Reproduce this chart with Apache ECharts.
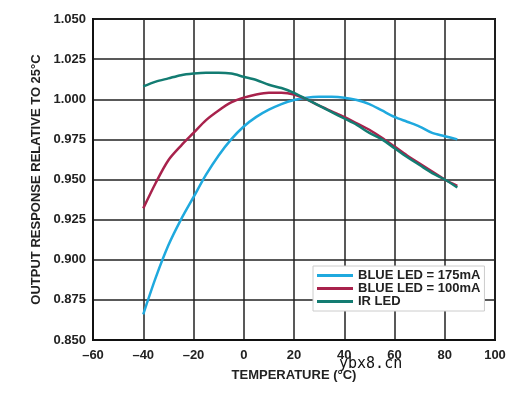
<!DOCTYPE html>
<html>
<head>
<meta charset="utf-8">
<script src="https://cdn.jsdelivr.net/npm/echarts@6/dist/echarts.min.js"></script>
<style>
html,body{margin:0;padding:0;background:#fff;}
#c{width:517px;height:396px;}
</style>
</head>
<body>
<div id="c"></div>
<script>
var temps = [-40,-35,-30,-25,-20,-15,-10,-5,0,5,10,15,20,25,30,35,40,45,50,55,60,65,70,75,80,85];
var blue175 = [0.866,0.889,0.909,0.925,0.939,0.953,0.965,0.975,0.983,0.989,0.9935,0.997,0.9995,1.001,1.0015,1.0015,1.001,0.9995,0.997,0.993,0.989,0.986,0.983,0.979,0.977,0.975];
var blue100 = [0.932,0.948,0.962,0.971,0.979,0.987,0.993,0.998,1.001,1.003,1.004,1.004,1.003,1.000,0.996,0.9925,0.989,0.985,0.981,0.976,0.9705,0.965,0.960,0.955,0.950,0.946];
var irLed = [1.008,1.011,1.013,1.015,1.016,1.0165,1.0165,1.016,1.014,1.012,1.009,1.007,1.004,1.000,0.996,0.992,0.988,0.984,0.979,0.975,0.9695,0.964,0.959,0.954,0.950,0.945];
var seriesNames = ['BLUE LED = 175mA','BLUE LED = 100mA','IR LED'];
var xTicks = [-60,-40,-20,0,20,40,60,80,100];
var yTicks = [0.850,0.875,0.900,0.925,0.950,0.975,1.000,1.025,1.050];

function pairs(vals){ return temps.map(function(t,i){ return [t, vals[i]]; }); }
var font = 'Liberation Sans, Arial, sans-serif';
var chart = echarts.init(document.getElementById('c'), null, {renderer:'canvas'});
chart.setOption({
  animation:false,
  backgroundColor:'#fff',
  grid:{left:93,top:19,right:22,bottom:56,show:true,borderColor:'#111',borderWidth:2,backgroundColor:'transparent'},
  legend:{
    orient:'vertical', left:313, top:266, itemWidth:36, itemHeight:3, itemGap:0,
    icon:'rect', backgroundColor:'#fff', borderColor:'#ccc', borderWidth:1, padding:[3,4,3,4],
    textStyle:{fontFamily:font, fontWeight:'bold', fontSize:13, color:'#222'},
    data:seriesNames
  },
  xAxis:{
    type:'value', min:xTicks[0], max:xTicks[xTicks.length-1], interval:20,
    name:'TEMPERATURE (°C)', nameLocation:'middle', nameGap:29,
    nameTextStyle:{fontFamily:font, fontWeight:'bold', fontSize:13, color:'#222'},
    axisLine:{show:true, onZero:false, lineStyle:{color:'#111', width:2}},
    axisTick:{show:false},
    axisLabel:{margin:9, fontFamily:font, fontWeight:'bold', fontSize:13, color:'#222',
      formatter:function(v){ return String(v).replace('-', '\u2013'); }},
    splitLine:{show:true, lineStyle:{color:'#222', width:1.5}}
  },
  yAxis:{
    type:'value', min:yTicks[0], max:yTicks[yTicks.length-1], interval:0.025,
    name:'OUTPUT RESPONSE RELATIVE TO 25°C', nameLocation:'middle', nameGap:50, nameRotate:90,
    nameTextStyle:{fontFamily:font, fontWeight:'bold', fontSize:13, color:'#222'},
    axisLine:{show:true, onZero:false, lineStyle:{color:'#111', width:2}},
    axisTick:{show:false},
    axisLabel:{margin:7, fontFamily:font, fontWeight:'bold', fontSize:13, color:'#222',
      formatter:function(v){ return v.toFixed(3); }},
    splitLine:{show:true, lineStyle:{color:'#222', width:1.5}}
  },
  series:[
    {name:seriesNames[0], type:'line', data:pairs(blue175), smooth:0.3, showSymbol:false, z:3,
      lineStyle:{color:'#1fa9de', width:2.5}, itemStyle:{color:'#1fa9de'}},
    {name:seriesNames[1], type:'line', data:pairs(blue100), smooth:0.3, showSymbol:false, z:4,
      lineStyle:{color:'#a8224c', width:2.5}, itemStyle:{color:'#a8224c'}},
    {name:seriesNames[2], type:'line', data:pairs(irLed), smooth:0.3, showSymbol:false, z:5,
      lineStyle:{color:'#137c72', width:2.5}, itemStyle:{color:'#137c72'}}
  ],
  graphic:[{type:'text', left:339, top:357, style:{text:'ybx8.cn', fontFamily:'DejaVu Sans Mono, monospace', fontSize:15, fill:'#111'}}]
});
</script>
</body>
</html>
